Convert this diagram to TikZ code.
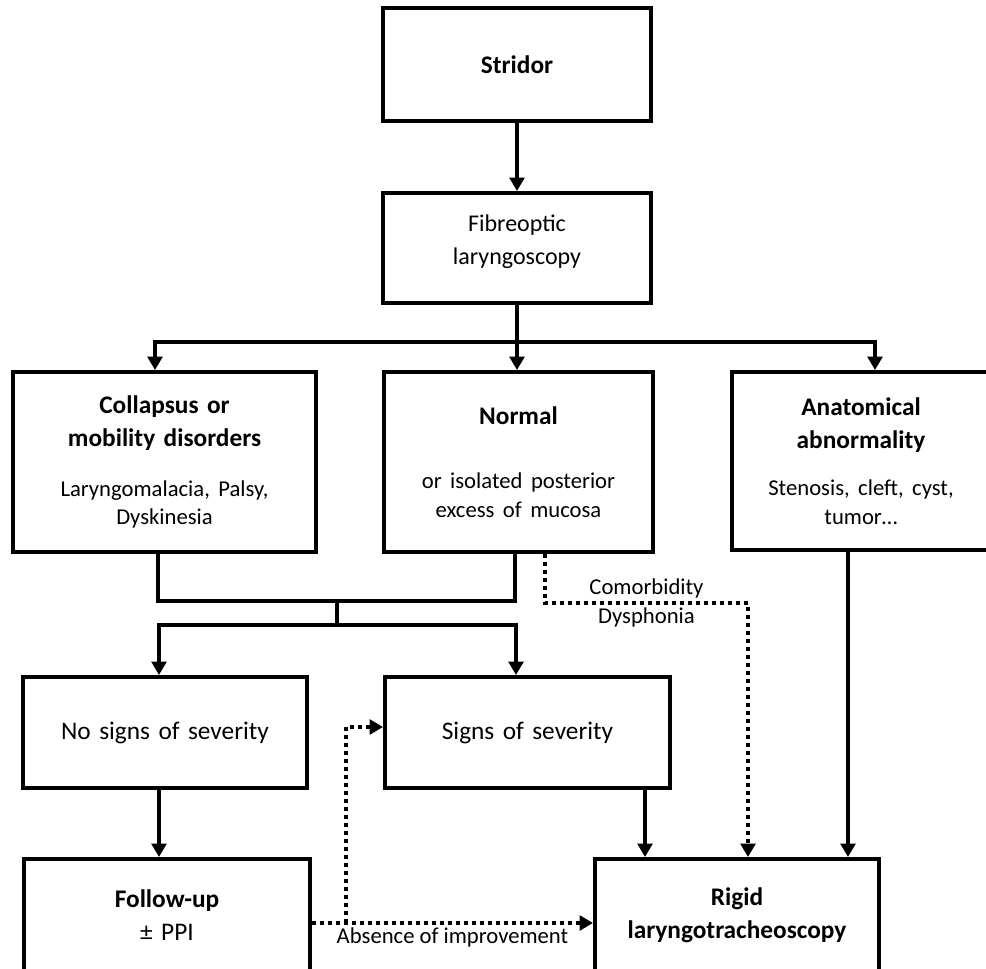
\documentclass[tikz,border=0pt]{standalone}
\usepackage{fontspec}
\setmainfont{Carlito}
\usepackage{tikz}
\usetikzlibrary{arrows.meta,calc}
\def\pxu{0.75pt}
\tikzstyle{block}=[rectangle,draw,line width=3pt,align=center,inner sep=0pt,text width=190pt,font=\fontsize{19}{24.75}\selectfont]
\tikzstyle{link}=[draw,line width=2.6pt]
\tikzstyle{arrowlink}=[link,-{Triangle[length=10pt,width=11pt]}]
\tikzstyle{dotlink}=[draw,line width=3pt,dash pattern=on 3pt off 3pt,-{Triangle[length=10pt,width=11pt]}]
\tikzstyle{note}=[font=\fontsize{17}{21}\selectfont,inner sep=2pt]
\newcommand{\sublines}{\fontsize{17}{21.5}\selectfont}

\begin{document}
\begin{tikzpicture}[x=0.75pt,y=-0.75pt]
\useasboundingbox (0,0) rectangle (986,969);

%top
\node[block,minimum width=268*\pxu,minimum height=113*\pxu] (stridor) at (517,64.5) {\bfseries Stridor};
\node[block,minimum width=268*\pxu,minimum height=110*\pxu,text depth=37.5pt,font=\fontsize{18}{24.75}\selectfont] (fibre) at (517,248) {Fibreoptic\\laryngoscopy};

%layer 1
\node[block,minimum width=303*\pxu,minimum height=180*\pxu] (collapsus) at (164.5,462)
  {{\bfseries Collapsus or\\mobility disorders\par}\vspace{16pt}{\sublines Laryngomalacia, Palsy,\\Dyskinesia\par}};
\node[block,minimum width=269*\pxu,minimum height=180*\pxu] (normal) at (518.5,462)
  {{\bfseries Normal\par}\vspace{27pt}{\sublines or isolated posterior\\excess of mucosa\par}};
\node[block,minimum width=258*\pxu,minimum height=178*\pxu] (anatom) at (861,461)
  {{\bfseries Anatomical\\abnormality\par}\vspace{14pt}{\sublines Stenosis, cleft, cyst,\\tumor…\par}};

%layer 2
\node[block,minimum width=284*\pxu,minimum height=111*\pxu] (nosigns) at (165,732.5) {No signs of severity};
\node[block,minimum width=285*\pxu,minimum height=111*\pxu] (signs) at (527.5,732.5) {Signs of severity};

%layer 3
\node[block,minimum width=286*\pxu,minimum height=113*\pxu] (follow) at (167,915.5) {{\bfseries Follow-up}\\± PPI};
\node[block,minimum width=284*\pxu,minimum height=113*\pxu] (rigid) at (737,915.5) {\bfseries Rigid\\laryngotracheoscopy};

% split after laryngoscopy
\coordinate (split) at (517,342);
\coordinate (left) at (155,342);
\coordinate (right) at (875,342);
\draw[arrowlink] (stridor) -- (fibre);
\draw[arrowlink] (fibre.south) -- (split |- normal.north);
\draw[arrowlink] (split) -| (left |- collapsus.north);
\draw[arrowlink] (split) -| (right |- anatom.north);

% merge of the first two boxes
\coordinate (ml) at (158,601);
\coordinate (mr) at (515,601);
\coordinate (mc) at (337,601);
\coordinate (sc) at (337,625);
\coordinate (sl) at (159,625);
\coordinate (sr) at (516,625);
\draw[link] (ml |- collapsus.south) -- (ml) -- (mr) -- (mr |- normal.south);
\draw[link] (mc) -- (sc);
\draw[arrowlink] (sc) -| (sl |- nosigns.north);
\draw[arrowlink] (sc) -| (sr |- signs.north);

% down to the last row
\coordinate (xa) at (645,0);
\coordinate (xb) at (848,0);
\draw[arrowlink] (nosigns.south -| sl) -- (follow.north -| sl);
\draw[arrowlink] (signs.south -| xa) -- (rigid.north -| xa);
\draw[arrowlink] (anatom.south -| xb) -- (rigid.north -| xb);

% dotted paths
\coordinate (d1) at (545,603);
\coordinate (d2) at (748,603);
\draw[dotlink] (normal.south -| d1) -- (d1) -- node[note,above] (comorb) {Comorbidity} node[note,below] (dysph) {Dysphonia} (d2) -- (rigid.north -| d2);

\coordinate (ay) at (0,923);
\coordinate (b1) at (346,923);
\coordinate (b2) at (346,727);
\draw[dotlink] (follow.east |- ay) -- node[note,below] (absence) {Absence of improvement} (rigid.west |- ay);
\draw[dotlink] (b1) -- (b2) -- (signs.west |- b2);

\end{tikzpicture}
\end{document}
